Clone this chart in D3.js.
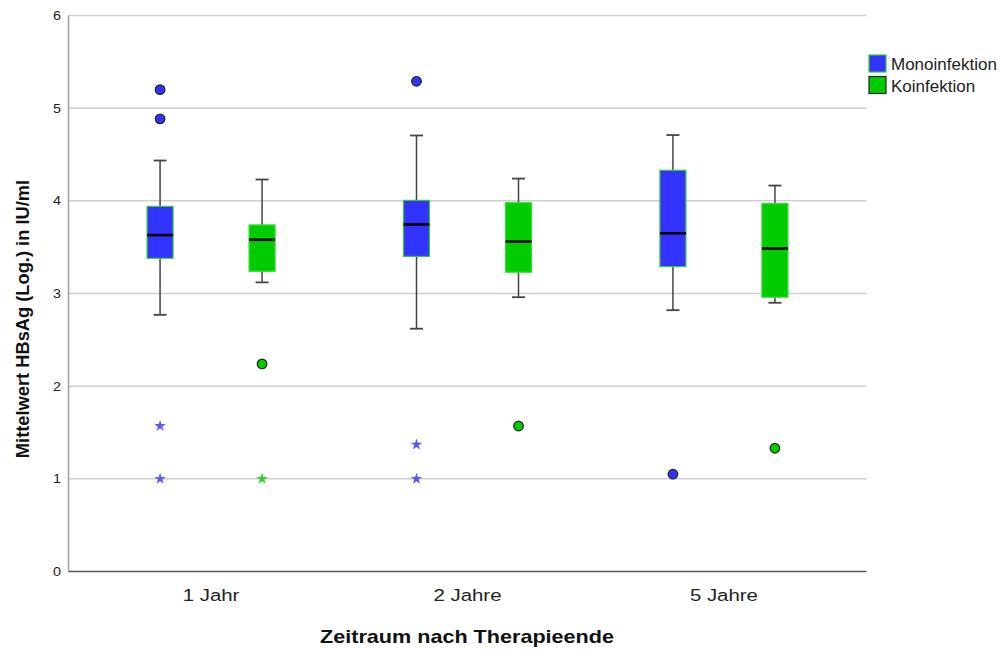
<!DOCTYPE html>
<html>
<head>
<meta charset="utf-8">
<script src="https://cdn.jsdelivr.net/npm/d3@7/dist/d3.min.js"></script>
<style>
  html, body { margin: 0; padding: 0; background: #fff; }
  svg { display: block; font-family: "Liberation Sans", Arial, sans-serif; }
</style>
</head>
<body>
<svg id="chart" width="1005" height="649"></svg>
<script>
// ---- data ----
const categories = ["1 Jahr", "2 Jahre", "5 Jahre"];
const series = ["Monoinfektion", "Koinfektion"];
const yTicks = [0, 1, 2, 3, 4, 5, 6];
// [lower whisker, Q1, median, Q3, upper whisker]
const monoStats = [
  [2.77, 3.38, 3.63, 3.94, 4.435],
  [2.62, 3.40, 3.745, 4.005, 4.705],
  [2.82, 3.29, 3.65, 4.33, 4.71]
];
const koinfStats = [
  [3.12, 3.24, 3.58, 3.74, 4.23],
  [2.96, 3.23, 3.56, 3.98, 4.24],
  [2.90, 2.96, 3.485, 3.97, 4.165]
];
// outliers (circles)
const monoOutliers = [[5.20, 4.885], [5.29], [1.05]];
const koinfOutliers = [[2.24], [1.57], [1.33]];
// extreme values (stars)
const monoExtremes = [[1.57, 1.0], [1.37, 1.0], []];
const koinfExtremes = [[1.0], [], []];

const xTitle = "Zeitraum nach Therapieende";
const yTitle = "Mittelwert HBsAg (Log.) in IU/ml";

// ---- layout ----
const svg = d3.select("#chart");
const L = 68.5, R = 866.5, T = 15.5, B = 571.5;
const SX = 1.2; // horizontal stretch of the reference text

const x = d3.scalePoint().domain(categories).range([L, R]).padding(0.556);
const xs = d3.scalePoint().domain(series).range([-51, 51]);
const y = d3.scaleLinear().domain([0, 6]).range([B, T]);

const colors = {
  "Monoinfektion": { fill: "#3333ff", stroke: "#33cc33", star: "#5a5aff" },
  "Koinfektion": { fill: "#00cc00", stroke: "#33dd33", star: "#33cc33" }
};
const statsBy = { "Monoinfektion": monoStats, "Koinfektion": koinfStats };
const outBy = { "Monoinfektion": monoOutliers, "Koinfektion": koinfOutliers };
const extBy = { "Monoinfektion": monoExtremes, "Koinfektion": koinfExtremes };

// gridlines
svg.append("g").selectAll("line")
  .data(yTicks.filter(d => d > 0))
  .join("line")
  .attr("x1", L).attr("x2", R)
  .attr("y1", d => y(d)).attr("y2", d => y(d))
  .attr("stroke", "#cfcfcf").attr("stroke-width", 1.5);

// y axis line
svg.append("line").attr("x1", L).attr("x2", L).attr("y1", T).attr("y2", B)
  .attr("stroke", "#a0a0a0").attr("stroke-width", 1.5);
// x axis line
svg.append("line").attr("x1", L).attr("x2", R).attr("y1", B).attr("y2", B)
  .attr("stroke", "#555").attr("stroke-width", 1.5);

// y tick labels
svg.append("g").selectAll("text")
  .data(yTicks)
  .join("text")
  .attr("transform", d => `translate(61,${y(d) + 4.5}) scale(${SX},1)`)
  .attr("text-anchor", "end")
  .attr("font-size", 12)
  .attr("fill", "#222")
  .text(d => d);

// x tick labels
svg.append("g").selectAll("text")
  .data(categories)
  .join("text")
  .attr("transform", d => `translate(${x(d)},601) scale(${SX},1)`)
  .attr("text-anchor", "middle")
  .attr("font-size", 17)
  .attr("fill", "#222")
  .text(d => d);

// titles
svg.append("text")
  .attr("transform", `translate(467,643) scale(${SX},1)`)
  .attr("text-anchor", "middle")
  .attr("font-size", 18)
  .attr("font-weight", "bold")
  .attr("fill", "#111")
  .text(xTitle);

svg.append("text")
  .attr("transform", `translate(29,319) rotate(-90)`)
  .attr("text-anchor", "middle")
  .attr("font-size", 18.3)
  .attr("font-weight", "bold")
  .attr("fill", "#111")
  .text(yTitle);

// boxplots
const boxW = 26, capW = 13;
series.forEach(s => {
  const g = svg.append("g");
  const c = colors[s];
  categories.forEach((cat, i) => {
    const st = statsBy[s][i];
    const cx = x(cat) + xs(s);
    // whiskers
    g.append("line").attr("x1", cx).attr("x2", cx)
      .attr("y1", y(st[4])).attr("y2", y(st[3]))
      .attr("stroke", "#444").attr("stroke-width", 1.5);
    g.append("line").attr("x1", cx).attr("x2", cx)
      .attr("y1", y(st[1])).attr("y2", y(st[0]))
      .attr("stroke", "#444").attr("stroke-width", 1.5);
    [st[0], st[4]].forEach(v => {
      g.append("line").attr("x1", cx - capW / 2).attr("x2", cx + capW / 2)
        .attr("y1", y(v)).attr("y2", y(v))
        .attr("stroke", "#444").attr("stroke-width", 1.8);
    });
    // box
    g.append("rect")
      .attr("x", cx - boxW / 2).attr("width", boxW)
      .attr("y", y(st[3])).attr("height", y(st[1]) - y(st[3]))
      .attr("fill", c.fill).attr("stroke", c.stroke).attr("stroke-width", 1.2);
    // median
    g.append("line").attr("x1", cx - boxW / 2).attr("x2", cx + boxW / 2)
      .attr("y1", y(st[2])).attr("y2", y(st[2]))
      .attr("stroke", "#000").attr("stroke-width", 2.6);
    // outliers
    outBy[s][i].forEach(v => {
      g.append("circle").attr("cx", cx).attr("cy", y(v)).attr("r", 4.8)
        .attr("fill", c.fill).attr("stroke", "#222").attr("stroke-width", 1.2);
    });
    // extremes
    extBy[s][i].forEach(v => {
      g.append("path")
        .attr("d", d3.symbol().type(d3.symbolStar).size(42)())
        .attr("transform", `translate(${cx},${y(v)})`)
        .attr("fill", c.star);
    });
  });
});

// legend
const leg = svg.append("g");
series.forEach((s, i) => {
  const c = colors[s];
  const yy = 55 + i * 21.5;
  leg.append("rect").attr("x", 869).attr("y", yy).attr("width", 17).attr("height", 17)
    .attr("fill", c.fill).attr("stroke", i === 0 ? "#33cc33" : "#222").attr("stroke-width", 1.2);
  leg.append("text").attr("x", 891).attr("y", yy + 15)
    .attr("font-size", 17).attr("fill", "#222").text(s);
});
</script>
</body>
</html>
